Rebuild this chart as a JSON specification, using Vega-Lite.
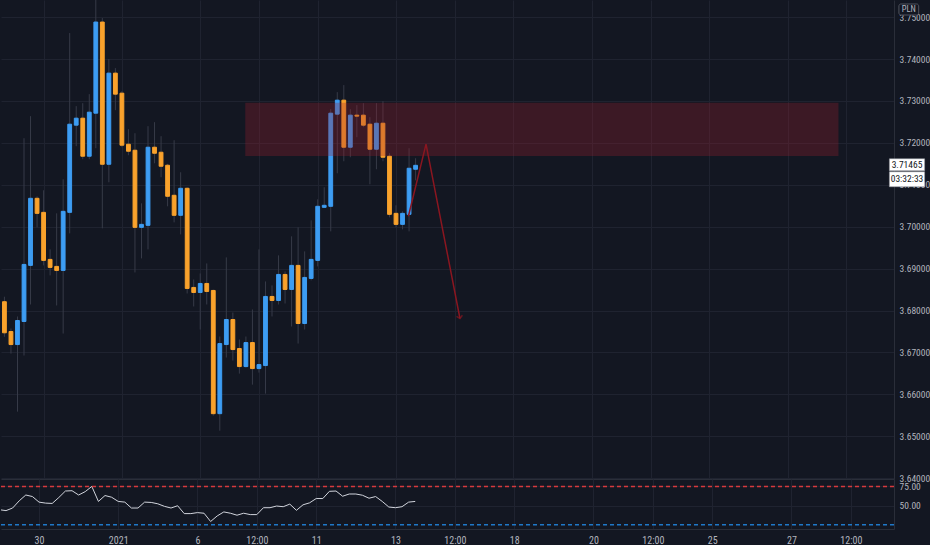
{
  "$schema": "https://vega.github.io/schema/vega-lite/v6.json",
  "description": "PLN 4h candles with a resistance zone, projected move and RSI pane.",
  "background": "#131722",
  "padding": 0,
  "spacing": 0,
  "bounds": "flush",
  "config": {
    "view": {"stroke": null},
    "axis": {
      "labelColor": "#b2b5be",
      "labelFont": "Liberation Sans Narrow, Roboto Condensed, DejaVu Sans Condensed, sans-serif",
      "labelFontSize": 9.5,
      "domainColor": "#2a2e39",
      "gridColor": "#1f2330",
      "ticks": false,
      "tickSize": 0,
      "labelPadding": 5
    },
    "text": {"font": "Liberation Sans Narrow, Roboto Condensed, DejaVu Sans Condensed, sans-serif"}
  },
  "datasets": {
    "bars": [
      {"n": 0, "o": 3.68211, "h": 3.6833, "l": 3.67373, "c": 3.67469, "rsi": 44.6},
      {"n": 1, "o": 3.67499, "h": 3.67571, "l": 3.66973, "c": 3.67188, "rsi": 43.4},
      {"n": 2, "o": 3.67188, "h": 3.67858, "l": 3.65587, "c": 3.67762, "rsi": 46.8},
      {"n": 3, "o": 3.67738, "h": 3.72112, "l": 3.66926, "c": 3.691, "rsi": 56.2},
      {"n": 4, "o": 3.69077, "h": 3.72638, "l": 3.68144, "c": 3.70678, "rsi": 63.8},
      {"n": 5, "o": 3.70678, "h": 3.70726, "l": 3.69985, "c": 3.70319, "rsi": 61.8},
      {"n": 6, "o": 3.70343, "h": 3.70869, "l": 3.69077, "c": 3.69196, "rsi": 54.5},
      {"n": 7, "o": 3.6922, "h": 3.69459, "l": 3.68838, "c": 3.69029, "rsi": 53.2},
      {"n": 8, "o": 3.69053, "h": 3.70319, "l": 3.68121, "c": 3.68957, "rsi": 52.8},
      {"n": 9, "o": 3.68957, "h": 3.71132, "l": 3.67451, "c": 3.70367, "rsi": 60.5},
      {"n": 10, "o": 3.70343, "h": 3.74621, "l": 3.69841, "c": 3.72446, "rsi": 69.0},
      {"n": 11, "o": 3.72423, "h": 3.72877, "l": 3.71921, "c": 3.7259, "rsi": 69.4},
      {"n": 12, "o": 3.7259, "h": 3.72948, "l": 3.7161, "c": 3.71682, "rsi": 63.8},
      {"n": 13, "o": 3.71682, "h": 3.73163, "l": 3.7161, "c": 3.72733, "rsi": 68.2},
      {"n": 14, "o": 3.72709, "h": 3.756, "l": 3.71873, "c": 3.74884, "rsi": 75.0},
      {"n": 15, "o": 3.74884, "h": 3.7498, "l": 3.69961, "c": 3.7149, "rsi": 55.4},
      {"n": 16, "o": 3.7149, "h": 3.74, "l": 3.7106, "c": 3.73665, "rsi": 63.1},
      {"n": 17, "o": 3.73665, "h": 3.73785, "l": 3.72781, "c": 3.73163, "rsi": 60.9},
      {"n": 18, "o": 3.73187, "h": 3.73235, "l": 3.71897, "c": 3.71945, "rsi": 55.4},
      {"n": 19, "o": 3.71968, "h": 3.72327, "l": 3.71706, "c": 3.71801, "rsi": 54.5},
      {"n": 20, "o": 3.71825, "h": 3.72231, "l": 3.68909, "c": 3.69985, "rsi": 46.8},
      {"n": 21, "o": 3.69985, "h": 3.70558, "l": 3.69244, "c": 3.70056, "rsi": 46.8},
      {"n": 22, "o": 3.70033, "h": 3.72399, "l": 3.69459, "c": 3.71897, "rsi": 54.5},
      {"n": 23, "o": 3.71897, "h": 3.72494, "l": 3.71514, "c": 3.71753, "rsi": 54.1},
      {"n": 24, "o": 3.71777, "h": 3.7216, "l": 3.7118, "c": 3.71443, "rsi": 52.3},
      {"n": 25, "o": 3.71467, "h": 3.715, "l": 3.70487, "c": 3.70726, "rsi": 49.0},
      {"n": 26, "o": 3.7075, "h": 3.72064, "l": 3.70104, "c": 3.70272, "rsi": 46.8},
      {"n": 27, "o": 3.70272, "h": 3.71299, "l": 3.69817, "c": 3.70917, "rsi": 49.8},
      {"n": 28, "o": 3.70917, "h": 3.7094, "l": 3.68407, "c": 3.68527, "rsi": 39.5},
      {"n": 29, "o": 3.68551, "h": 3.68742, "l": 3.68097, "c": 3.68431, "rsi": 39.5},
      {"n": 30, "o": 3.68431, "h": 3.68885, "l": 3.67547, "c": 3.68646, "rsi": 40.8},
      {"n": 31, "o": 3.68646, "h": 3.69124, "l": 3.68144, "c": 3.68455, "rsi": 40.0},
      {"n": 32, "o": 3.68479, "h": 3.685, "l": 3.65492, "c": 3.65539, "rsi": 29.2},
      {"n": 33, "o": 3.65539, "h": 3.6738, "l": 3.65133, "c": 3.67212, "rsi": 36.5},
      {"n": 34, "o": 3.67188, "h": 3.69268, "l": 3.66878, "c": 3.67786, "rsi": 41.7},
      {"n": 35, "o": 3.67786, "h": 3.67953, "l": 3.66806, "c": 3.67069, "rsi": 40.0},
      {"n": 36, "o": 3.67093, "h": 3.67308, "l": 3.66495, "c": 3.66663, "rsi": 37.4},
      {"n": 37, "o": 3.66663, "h": 3.6738, "l": 3.66639, "c": 3.67236, "rsi": 40.0},
      {"n": 38, "o": 3.67236, "h": 3.68025, "l": 3.66232, "c": 3.66615, "rsi": 38.2},
      {"n": 39, "o": 3.66615, "h": 3.69459, "l": 3.66519, "c": 3.6671, "rsi": 38.2},
      {"n": 40, "o": 3.66687, "h": 3.68694, "l": 3.66017, "c": 3.68336, "rsi": 47.2},
      {"n": 41, "o": 3.68336, "h": 3.68599, "l": 3.67858, "c": 3.6824, "rsi": 47.2},
      {"n": 42, "o": 3.6824, "h": 3.69316, "l": 3.68144, "c": 3.68861, "rsi": 49.4},
      {"n": 43, "o": 3.68861, "h": 3.68933, "l": 3.68168, "c": 3.68503, "rsi": 48.5},
      {"n": 44, "o": 3.68503, "h": 3.6977, "l": 3.67619, "c": 3.69077, "rsi": 51.9},
      {"n": 45, "o": 3.69077, "h": 3.69985, "l": 3.67212, "c": 3.6769, "rsi": 43.8},
      {"n": 46, "o": 3.6769, "h": 3.69411, "l": 3.67547, "c": 3.6879, "rsi": 51.0},
      {"n": 47, "o": 3.68766, "h": 3.70152, "l": 3.6872, "c": 3.6922, "rsi": 53.6},
      {"n": 48, "o": 3.69196, "h": 3.70654, "l": 3.69053, "c": 3.70487, "rsi": 59.2},
      {"n": 49, "o": 3.70463, "h": 3.70941, "l": 3.7045, "c": 3.70511, "rsi": 59.2},
      {"n": 50, "o": 3.70487, "h": 3.72805, "l": 3.69889, "c": 3.72709, "rsi": 68.6},
      {"n": 51, "o": 3.72686, "h": 3.73211, "l": 3.71275, "c": 3.7302, "rsi": 69.0},
      {"n": 52, "o": 3.7302, "h": 3.73379, "l": 3.71562, "c": 3.71897, "rsi": 62.2},
      {"n": 53, "o": 3.71897, "h": 3.72805, "l": 3.71658, "c": 3.72662, "rsi": 65.1},
      {"n": 54, "o": 3.72662, "h": 3.72901, "l": 3.72136, "c": 3.72638, "rsi": 65.1},
      {"n": 55, "o": 3.72662, "h": 3.72948, "l": 3.72375, "c": 3.72423, "rsi": 63.5},
      {"n": 56, "o": 3.72446, "h": 3.72614, "l": 3.71012, "c": 3.71849, "rsi": 59.6},
      {"n": 57, "o": 3.71849, "h": 3.72948, "l": 3.71371, "c": 3.7247, "rsi": 61.8},
      {"n": 58, "o": 3.7247, "h": 3.72996, "l": 3.71562, "c": 3.71658, "rsi": 55.4},
      {"n": 59, "o": 3.71682, "h": 3.71753, "l": 3.70224, "c": 3.70295, "rsi": 48.1},
      {"n": 60, "o": 3.70319, "h": 3.70511, "l": 3.69985, "c": 3.70056, "rsi": 47.2},
      {"n": 61, "o": 3.70056, "h": 3.70367, "l": 3.69937, "c": 3.70319, "rsi": 48.5},
      {"n": 62, "o": 3.70295, "h": 3.71873, "l": 3.69889, "c": 3.71395, "rsi": 54.5},
      {"n": 63, "o": 3.71371, "h": 3.71634, "l": 3.71108, "c": 3.71465, "rsi": 55.4}
    ],
    "zone": [{"from": 36.9, "to": 127.8, "top": 3.7296, "bottom": 3.7169}],
    "path": [
      {"n": 61.9, "p": 3.7025},
      {"n": 64.6, "p": 3.7197},
      {"n": 69.8, "p": 3.6781}
    ],
    "last": [{"price": 3.71465, "label": "3.71465", "timer": "03:32:33"}],
    "levels": [
      {"level": 75, "band": "upper"},
      {"level": 25, "band": "lower"}
    ]
  },
  "resolve": {"scale": {"x": "independent", "y": "independent"}},
  "vconcat": [
    {
      "width": 893,
      "height": 479,
      "layer": [
        {
          "data": {"name": "bars"},
          "mark": {"type": "rule", "color": "#373b48", "strokeWidth": 1, "clip": true},
          "encoding": {
            "x": {
              "field": "n",
              "type": "quantitative",
              "scale": {"domain": [0.24, 135.54], "nice": false, "zero": false},
              "axis": {
                "title": null,
                "orient": "bottom",
                "values": [6, 18, 30, 39, 48, 60, 69, 78, 90, 99, 108, 120, 129],
                "labels": false,
                "labelPadding": 0,
                "grid": true,
                "domain": true
              }
            },
            "y": {
              "field": "l",
              "type": "quantitative",
              "scale": {"domain": [3.6398, 3.7541], "nice": false, "zero": false},
              "axis": {
                "title": null,
                "orient": "right",
                "values": [3.64, 3.65, 3.66, 3.67, 3.68, 3.69, 3.7, 3.71, 3.72, 3.73, 3.74, 3.75],
                "format": ".5f",
                "grid": true,
                "domain": true
              }
            },
            "y2": {"field": "h"}
          }
        },
        {
          "data": {"name": "bars"},
          "mark": {"type": "bar", "width": 3.8, "strokeWidth": 1, "clip": true},
          "encoding": {
            "x": {"field": "n", "type": "quantitative"},
            "y": {"field": "o", "type": "quantitative"},
            "y2": {"field": "c"},
            "color": {
              "condition": {"test": "datum.c >= datum.o", "value": "#3d9df3"},
              "value": "#f9a22c"
            },
            "stroke": {
              "condition": {"test": "datum.c >= datum.o", "value": "#3d9df3"},
              "value": "#f9a22c"
            }
          }
        },
        {
          "data": {"name": "zone"},
          "mark": {"type": "rect", "color": "#9c1f2d", "opacity": 0.3},
          "encoding": {
            "x": {"field": "from", "type": "quantitative"},
            "x2": {"field": "to"},
            "y": {"field": "top", "type": "quantitative"},
            "y2": {"field": "bottom"}
          }
        },
        {
          "data": {"name": "path"},
          "mark": {"type": "line", "color": "#8a1620", "strokeWidth": 1.5},
          "encoding": {
            "x": {"field": "n", "type": "quantitative"},
            "y": {"field": "p", "type": "quantitative"}
          }
        },
        {
          "data": {"name": "path"},
          "transform": [{"filter": "datum.n > 69"}],
          "mark": {
            "type": "point",
            "shape": "M-1,-0.9L0,0L1,-0.9",
            "size": 36,
            "filled": false,
            "color": "#8a1620",
            "strokeWidth": 1.5,
            "angle": 349
          },
          "encoding": {
            "x": {"field": "n", "type": "quantitative"},
            "y": {"field": "p", "type": "quantitative"}
          }
        },
        {
          "data": {"name": "last"},
          "mark": {"type": "rect", "fill": "#ffffff", "stroke": "#9598a1", "strokeWidth": 0.5},
          "encoding": {
            "x": {"datum": 135.6},
            "x2": {"datum": 141.0},
            "y": {"datum": 3.71622},
            "y2": {"datum": 3.71335}
          }
        },
        {
          "data": {"name": "last"},
          "mark": {"type": "rect", "fill": "#ffffff", "stroke": "#9598a1", "strokeWidth": 0.5},
          "encoding": {
            "x": {"datum": 135.6},
            "x2": {"datum": 141.0},
            "y": {"datum": 3.71311},
            "y2": {"datum": 3.70953}
          }
        },
        {
          "data": {"name": "last"},
          "mark": {"type": "text", "color": "#131722", "fontSize": 9.5, "align": "center", "baseline": "middle"},
          "encoding": {
            "x": {"datum": 138.3},
            "y": {"field": "price", "type": "quantitative"},
            "text": {"field": "label"}
          }
        },
        {
          "data": {"name": "last"},
          "mark": {"type": "text", "color": "#131722", "fontSize": 9.5, "align": "center", "baseline": "middle"},
          "encoding": {
            "x": {"datum": 138.3},
            "y": {"datum": 3.71132},
            "text": {"field": "timer"}
          }
        },
        {
          "data": {"name": "last"},
          "mark": {"type": "rect", "fill": "#131722", "stroke": "#50535e", "strokeWidth": 1, "cornerRadius": 2},
          "encoding": {
            "x": {"datum": 137.06},
            "x2": {"datum": 140.09},
            "y": {"datum": 3.75315},
            "y2": {"datum": 3.75052}
          }
        },
        {
          "data": {"name": "last"},
          "mark": {"type": "text", "text": "PLN", "color": "#b2b5be", "fontSize": 8.5, "align": "center", "baseline": "middle"},
          "encoding": {
            "x": {"datum": 138.57},
            "y": {"datum": 3.75185}
          }
        }
      ]
    },
    {
      "width": 893,
      "height": 50,
      "layer": [
        {
          "data": {"name": "bars"},
          "mark": {"type": "line", "color": "#d1d4dc", "strokeWidth": 1, "clip": true},
          "encoding": {
            "x": {
              "field": "n",
              "type": "quantitative",
              "scale": {"domain": [0.24, 135.54], "nice": false, "zero": false},
              "axis": {
                "title": null,
                "orient": "bottom",
                "values": [6, 18, 30, 39, 48, 60, 69, 78, 90, 99, 108, 120, 129],
                "labelExpr": "['30','2021','6','12:00','11','13','12:00','18','20','12:00','25','27','12:00'][indexof([6,18,30,39,48,60,69,78,90,99,108,120,129], datum.value)]",
                "labelFontSize": 10,
                "labelPadding": 6,
                "labelFlush": false,
                "labelOverlap": false,
                "grid": true,
                "domain": true
              }
            },
            "y": {
              "field": "rsi",
              "type": "quantitative",
              "scale": {"domain": [19.4, 84.7], "nice": false, "zero": false},
              "axis": {
                "title": null,
                "orient": "right",
                "values": [50, 75],
                "format": ".2f",
                "grid": true,
                "domain": true
              }
            }
          }
        },
        {
          "data": {"name": "levels"},
          "mark": {"type": "rule", "strokeWidth": 1.5, "strokeDash": [4, 3]},
          "encoding": {
            "y": {"field": "level", "type": "quantitative"},
            "color": {
              "condition": {"test": "datum.level > 50", "value": "#d6393d"},
              "value": "#1f78c8"
            }
          }
        }
      ]
    }
  ]
}
